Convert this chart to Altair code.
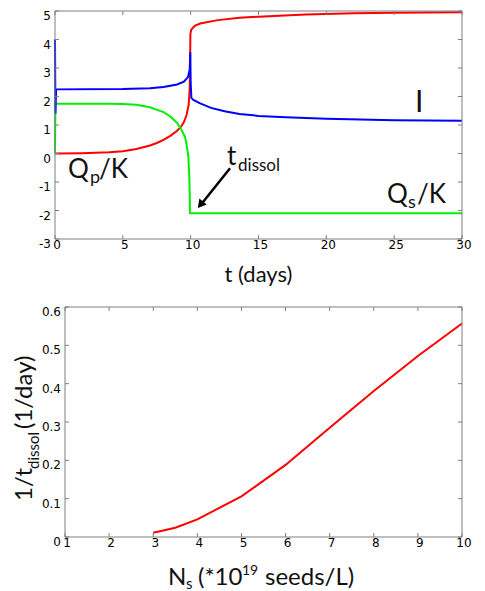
import altair as alt
import pandas as pd

# ---------------- data: top panel ----------------
red_t = [0, 2, 4, 5, 6, 7, 7.5, 8, 8.5, 9, 9.3, 9.5, 9.7, 9.85, 9.93, 9.96, 9.98, 10.05, 10.3, 10.7, 12, 13.6, 15, 18.5, 22, 25, 30]
red_v = [0, 0.01, 0.04, 0.08, 0.16, 0.28, 0.37, 0.48, 0.62, 0.8, 0.95, 1.1, 1.35, 1.7, 2.3, 3.3, 4.2, 4.35, 4.48, 4.56, 4.68, 4.76, 4.8, 4.88, 4.92, 4.94, 4.96]

green_t = [0, 0.03, 4, 5, 6, 7, 8, 8.5, 9, 9.3, 9.58, 9.7, 9.83, 9.9, 9.93, 9.95, 30]
green_v = [0, 1.75, 1.75, 1.74, 1.71, 1.62, 1.45, 1.3, 1.07, 0.85, 0.59, 0.3, -0.11, -0.81, -1.4, -2.1, -2.1]

blue_t = [0, 0.03, 0.08, 5, 7, 8, 9, 9.5, 9.8, 9.93, 9.97, 10.0, 10.05, 10.2, 10.7, 11.5, 12.5, 13.6, 15, 17, 20, 25, 30]
blue_v = [4.0, 1.4, 2.25, 2.26, 2.29, 2.33, 2.42, 2.52, 2.68, 2.95, 3.55, 2.5, 1.95, 1.88, 1.76, 1.6, 1.48, 1.39, 1.32, 1.27, 1.22, 1.17, 1.15]

top_x_ticks = [0, 5, 10, 15, 20, 25, 30]
top_y_ticks = [-3, -2, -1, 0, 1, 2, 3, 4, 5]

# ---------------- data: bottom panel ----------------
ns_vals = [3, 3.5, 4, 5, 6, 7, 8, 9, 10]
rate_vals = [0.011, 0.024, 0.046, 0.106, 0.188, 0.285, 0.381, 0.472, 0.557]

bot_x_ticks = [1, 2, 3, 4, 5, 6, 7, 8, 9, 10]
bot_y_ticks = [0, 0.1, 0.2, 0.3, 0.4, 0.5, 0.6]

# ---------------- styles ----------------
TW, TH = 407, 228          # top plot area
BW, BH = 407, 230          # bottom group (plot area starts 10px in)
BX0 = 10                   # bottom plot left edge inside its group
FRAME = "#7f7f7f"
LFONT, LSIZE, LCOL = "DejaVu Sans", 12, "#000000"
TFONT = "Lato"
TK = 4

one = pd.DataFrame({"k": [0]})
V = alt.value
D = alt.datum


def frame_and_ticks(xticks, yticks, xf, yf, x0, x1, H):
    dx = pd.DataFrame({xf: xticks})
    dy = pd.DataFrame({yf: yticks})
    rs = dict(color=FRAME, strokeWidth=1)
    return [
        alt.Chart(one).mark_rule(**rs).encode(x=V(x0), y=V(0), y2=V(H)),
        alt.Chart(one).mark_rule(**rs).encode(x=V(x1), y=V(0), y2=V(H)),
        alt.Chart(one).mark_rule(**rs).encode(x=V(x0), x2=V(x1), y=V(0)),
        alt.Chart(one).mark_rule(**rs).encode(x=V(x0), x2=V(x1), y=V(H)),
        alt.Chart(dy).mark_rule(**rs).encode(y=alt.Y(f"{yf}:Q"), x=V(x0), x2=V(x0 + TK)),
        alt.Chart(dy).mark_rule(**rs).encode(y=alt.Y(f"{yf}:Q"), x=V(x1), x2=V(x1 - TK)),
        alt.Chart(dx).mark_rule(**rs).encode(x=alt.X(f"{xf}:Q"), y=V(H), y2=V(H - TK)),
        alt.Chart(dx).mark_rule(**rs).encode(x=alt.X(f"{xf}:Q"), y=V(0), y2=V(TK)),
    ]


def tick_labels(xticks, yticks, xf, yf, x0, H):
    dx = pd.DataFrame({xf: xticks, "lab": [f"{v:g}" for v in xticks]})
    dy = pd.DataFrame({yf: yticks, "lab": [f"{v:g}" for v in yticks]})
    st = dict(font=LFONT, fontSize=LSIZE, color=LCOL)
    return [
        alt.Chart(dx).mark_text(align="center", baseline="top", dx=2, **st).encode(
            x=alt.X(f"{xf}:Q"), y=V(H + 1), text="lab:N"),
        alt.Chart(dy).mark_text(align="right", baseline="middle", dy=5, **st).encode(
            y=alt.Y(f"{yf}:Q"), x=V(x0 - 4), text="lab:N"),
    ]


def txt(text, xv, yv, size, dx=0, dy=0, angle=0, align="left"):
    return alt.Chart(one).mark_text(text=text, font=TFONT, fontSize=size, align=align,
                                    baseline="alphabetic", dx=dx, dy=dy, angle=angle,
                                    color="#111111").encode(x=xv, y=yv)


# ---------------- top panel ----------------
df_red = pd.DataFrame({"t": red_t, "v": red_v})
df_green = pd.DataFrame({"t": green_t, "v": green_v})
df_blue = pd.DataFrame({"t": blue_t, "v": blue_v})

xt = alt.X("t:Q", scale=alt.Scale(domain=[0, 30], nice=False, zero=False), axis=None)
yt = alt.Y("v:Q", scale=alt.Scale(domain=[-3, 5], nice=False, zero=False), axis=None)

red_line = alt.Chart(df_red).mark_line(color="#ff0000", strokeWidth=2).encode(x=xt, y=yt)
green_line = alt.Chart(df_green).mark_line(color="#00f000", strokeWidth=2).encode(x="t:Q", y="v:Q")
blue_line = alt.Chart(df_blue).mark_line(color="#0000ff", strokeWidth=2).encode(x="t:Q", y="v:Q")

top_text = [
    txt("Q", D(0.96), D(-0.87), 26),
    txt("p", D(0.96), D(-0.87), 18, dx=22, dy=5),
    txt("/K", D(0.96), D(-0.87), 26, dx=31),
    txt("Q", D(24.47), D(-1.74), 26),
    txt("s", D(24.47), D(-1.74), 18, dx=21, dy=5),
    txt("/K", D(24.47), D(-1.74), 26, dx=30),
    txt("t", D(12.68), D(-0.42), 26),
    txt("dissol", D(12.68), D(-0.42), 17, dx=11, dy=6),
    txt("I", D(26.53), D(1.44), 30),
    txt("t (days)", V(TW / 2), V(270.5), 22, align="center"),
]

arrow_line = alt.Chart(one).mark_rule(color="black", strokeWidth=2.5).encode(
    x=D(12.9), y=D(-0.52), x2=D(10.78), y2=D(-1.78))
arrow_head = alt.Chart(one).mark_point(shape="triangle-up", filled=True, color="black",
                                       size=90, angle=219, opacity=1).encode(
    x=D(10.72), y=D(-1.8))

top = alt.layer(
    red_line, green_line, blue_line,
    *frame_and_ticks(top_x_ticks, top_y_ticks, "t", "v", 0, TW, TH),
    *tick_labels(top_x_ticks, top_y_ticks, "t", "v", 0, TH),
    arrow_line, arrow_head, *top_text,
).properties(width=TW, height=TH)

# ---------------- bottom panel ----------------
df_rate = pd.DataFrame({"n": ns_vals, "r": rate_vals})
xb = alt.X("n:Q", scale=alt.Scale(domain=[1, 10], range=[BX0, BW], nice=False, zero=False), axis=None)
yb = alt.Y("r:Q", scale=alt.Scale(domain=[0, 0.6], nice=False, zero=False), axis=None)

rate_line = alt.Chart(df_rate).mark_line(color="#ff0000", strokeWidth=2).encode(x=xb, y=yb)

bot_text = [
    txt("N", V(113), V(278), 24),
    txt("s", V(131), V(282), 15),
    txt("(*10", V(143), V(278), 24),
    txt("19", V(187), V(268), 14),
    txt("seeds/L)", V(210), V(278), 24),
    txt("1/t", V(-23), V(194), 24, angle=270),
    txt("dissol", V(-16), V(162), 15, angle=270),
    txt("(1/day)", V(-23), V(122), 24, angle=270),
]

# invisible left edge so that the layout starts at a fixed place
left_edge = alt.Chart(one).mark_rule(strokeOpacity=0, strokeWidth=1).encode(
    x=V(-46.5), y=V(0), y2=V(BH))

bottom = alt.layer(
    rate_line,
    *frame_and_ticks(bot_x_ticks, bot_y_ticks, "n", "r", BX0, BW, BH),
    *tick_labels(bot_x_ticks, bot_y_ticks, "n", "r", BX0, BH),
    *bot_text, left_edge,
).properties(width=BW, height=BH)

chart = alt.vconcat(top, bottom, spacing=20).properties(
    padding={"left": 0, "top": 0, "right": 0, "bottom": 6}
).configure_view(stroke=None)

chart.save("out.html", embed_options={"renderer": "svg", "actions": False})
